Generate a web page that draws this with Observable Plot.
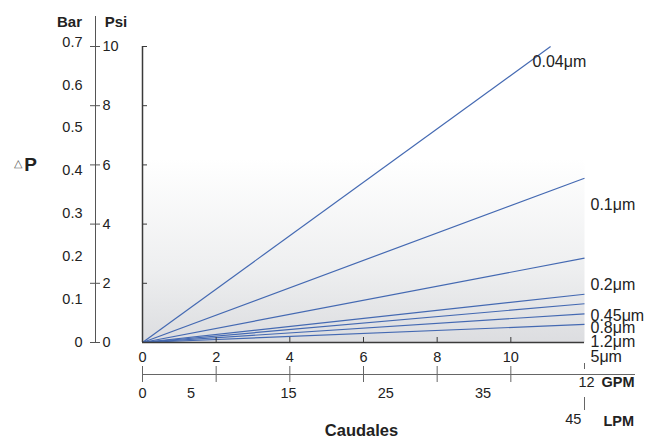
<!DOCTYPE html>
<html>
<head>
<meta charset="utf-8">
<script src="https://cdn.jsdelivr.net/npm/d3@7"></script>
<script src="https://cdn.jsdelivr.net/npm/@observablehq/plot@0.6"></script>
<style>
  html, body { margin: 0; padding: 0; background: #fff; }
  #chart svg { display: block; }
</style>
</head>
<body>
<div id="chart"></div>
<script>
// ---- data ----
const filterSizes = ["0.04μm", "0.1μm", "0.2μm", "0.45μm", "0.8μm", "1.2μm", "5μm"];
const endFlowGPM  = [11.08, 12, 12, 12, 12, 12, 12];          // flow at line end (GPM)
const endPsi      = [10, 5.55, 2.85, 1.63, 1.31, 0.97, 0.61]; // pressure drop at line end (psi)
const labelPsi    = [9.49, 4.66, 1.96, 0.91, 0.51, 0.03, -0.47]; // where the labels sit (psi)
const psiTicks = [0, 2, 4, 6, 8, 10];
const barTicks = [0, 0.1, 0.2, 0.3, 0.4, 0.5, 0.6, 0.7];
const gpmTicks = [0, 2, 4, 6, 8, 10];
const lpmTicks = [0, 5, 15, 25, 35];
const PSI_PER_BAR = 14.5038;
const LPM_PER_GPM = 3.78541;

const series = filterSizes.map((name, i) => ({
  name, flow: endFlowGPM[i], psi: endPsi[i], labelPsi: labelPsi[i]
}));

const axisColor = "#3a3a3a";
const lineColor = "#4469b2";
const textColor = "#222";
const FS = 14.5;

const defs = () => {
  const d = d3.create("svg:defs");
  const g = d.append("linearGradient").attr("id", "bg")
    .attr("x1", 0).attr("y1", 0).attr("x2", 0).attr("y2", 1);
  g.append("stop").attr("offset", "0").attr("stop-color", "#ffffff");
  g.append("stop").attr("offset", "0.38").attr("stop-color", "#ffffff");
  g.append("stop").attr("offset", "0.75").attr("stop-color", "#eeeff0");
  g.append("stop").attr("offset", "1").attr("stop-color", "#dcdde0");
  return d.node();
};

const label = (txt, opts) => Plot.text([txt], {frameAnchor: "top-left", text: d => d, textAnchor: "middle", lineAnchor: "middle", fill: textColor, fontSize: FS, ...opts});

const chart = Plot.plot({
  width: 659,
  height: 441,
  marginLeft: 142,
  marginRight: 75,
  marginTop: 46,
  marginBottom: 99,
  x: {domain: [0, 12], axis: null},
  y: {domain: [0, 10], axis: null},
  style: {fontFamily: "'Liberation Sans', Arial, sans-serif", fontSize: "14px", color: textColor, background: "#fff"},
  marks: [
    defs,
    Plot.frame({fill: "url(#bg)", stroke: null}),
    // filter lines
    Plot.link(series, {x1: 0, y1: 0, x2: "flow", y2: "psi", stroke: lineColor, strokeWidth: 1.2}),
    // main frame axes
    Plot.tickX([0], {x: d => d, stroke: axisColor, strokeWidth: 1.5}),
    Plot.tickY([0], {y: d => d, stroke: axisColor, strokeWidth: 1.5}),
    Plot.tickY(psiTicks.filter(v => v > 0), {y: d => d, stroke: axisColor, insetRight: 437}),
    Plot.tickX(gpmTicks.filter(v => v > 0), {x: d => d, stroke: axisColor, insetTop: 291}),
    // series labels
    Plot.text(series.slice(0, 1), {x: "flow", y: "labelPsi", text: "name", textAnchor: "start", dx: -18, fontSize: 16, fill: textColor}),
    Plot.text(series.slice(1), {x: 12, y: "labelPsi", text: "name", textAnchor: "start", dx: 6, fontSize: 16, fill: textColor}),
    // left Psi / Bar axis
    Plot.tickX([0], {x: d => d, dx: -47, insetTop: -30, stroke: "#555"}),
    Plot.tickY(psiTicks, {y: d => d, dx: -52, insetRight: 432, stroke: "#555"}),
    Plot.text(psiTicks, {x: 0, y: d => d, text: d => String(d), dx: -40, textAnchor: "start", fill: textColor, fontSize: FS}),
    Plot.text(barTicks, {x: 0, y: d => d * PSI_PER_BAR, text: d => d === 0 ? "0" : d.toFixed(1), dx: -60, textAnchor: "end", fill: textColor, fontSize: FS}),
    label("Bar", {dx: -73, dy: -24, fontWeight: "bold", fontSize: 15}),
    label("Psi", {dx: -26.5, dy: -24, fontWeight: "bold", fontSize: 15}),
    label("△", {dx: -124.5, dy: 117, fontSize: 11, fill: "#555"}),
    label("P", {dx: -112, dy: 118, fontSize: 19, fontWeight: "bold"}),
    // bottom GPM tick labels under main axis
    Plot.text(gpmTicks, {x: d => d, y: 0, text: d => String(d), dy: 15, fill: textColor, fontSize: FS}),
    // secondary GPM / LPM scale
    Plot.tickY([0], {y: d => d, dy: 32, insetRight: -51, stroke: "#666", strokeWidth: 1.2}),
    Plot.tickX(gpmTicks, {x: d => d, dy: 40, insetTop: 280, stroke: "#666"}),
    Plot.tickX([12], {x: d => d, dy: 27, insetTop: 290, stroke: "#666"}),
    Plot.tickX([12], {x: d => d, dy: 68, insetTop: 283, stroke: "#666"}),
    Plot.text([12], {x: d => d, y: 0, text: d => String(d), dy: 40, dx: 2, fill: textColor, fontSize: FS}),
    Plot.text(["GPM"], {x: 12, y: 0, text: d => d, dy: 40, dx: 17, textAnchor: "start", fontWeight: "bold", fill: textColor, fontSize: FS}),
    Plot.text(lpmTicks, {x: d => d / LPM_PER_GPM, y: 0, text: d => String(d), dy: 51, fill: textColor, fontSize: FS}),
    Plot.text([45], {x: d => d / LPM_PER_GPM, y: 0, text: d => String(d), dy: 77, dx: -7, fill: textColor, fontSize: FS}),
    Plot.text(["LPM"], {x: 12, y: 0, text: d => d, dy: 79, dx: 19, textAnchor: "start", fontWeight: "bold", fill: textColor, fontSize: FS}),
    Plot.text(["Caudales"], {frameAnchor: "bottom", text: d => d, lineAnchor: "middle", dy: 88, dx: -2, fontSize: 16.5, fontWeight: "bold", fill: textColor})
  ]
});

document.getElementById("chart").appendChild(chart);
</script>
</body>
</html>
